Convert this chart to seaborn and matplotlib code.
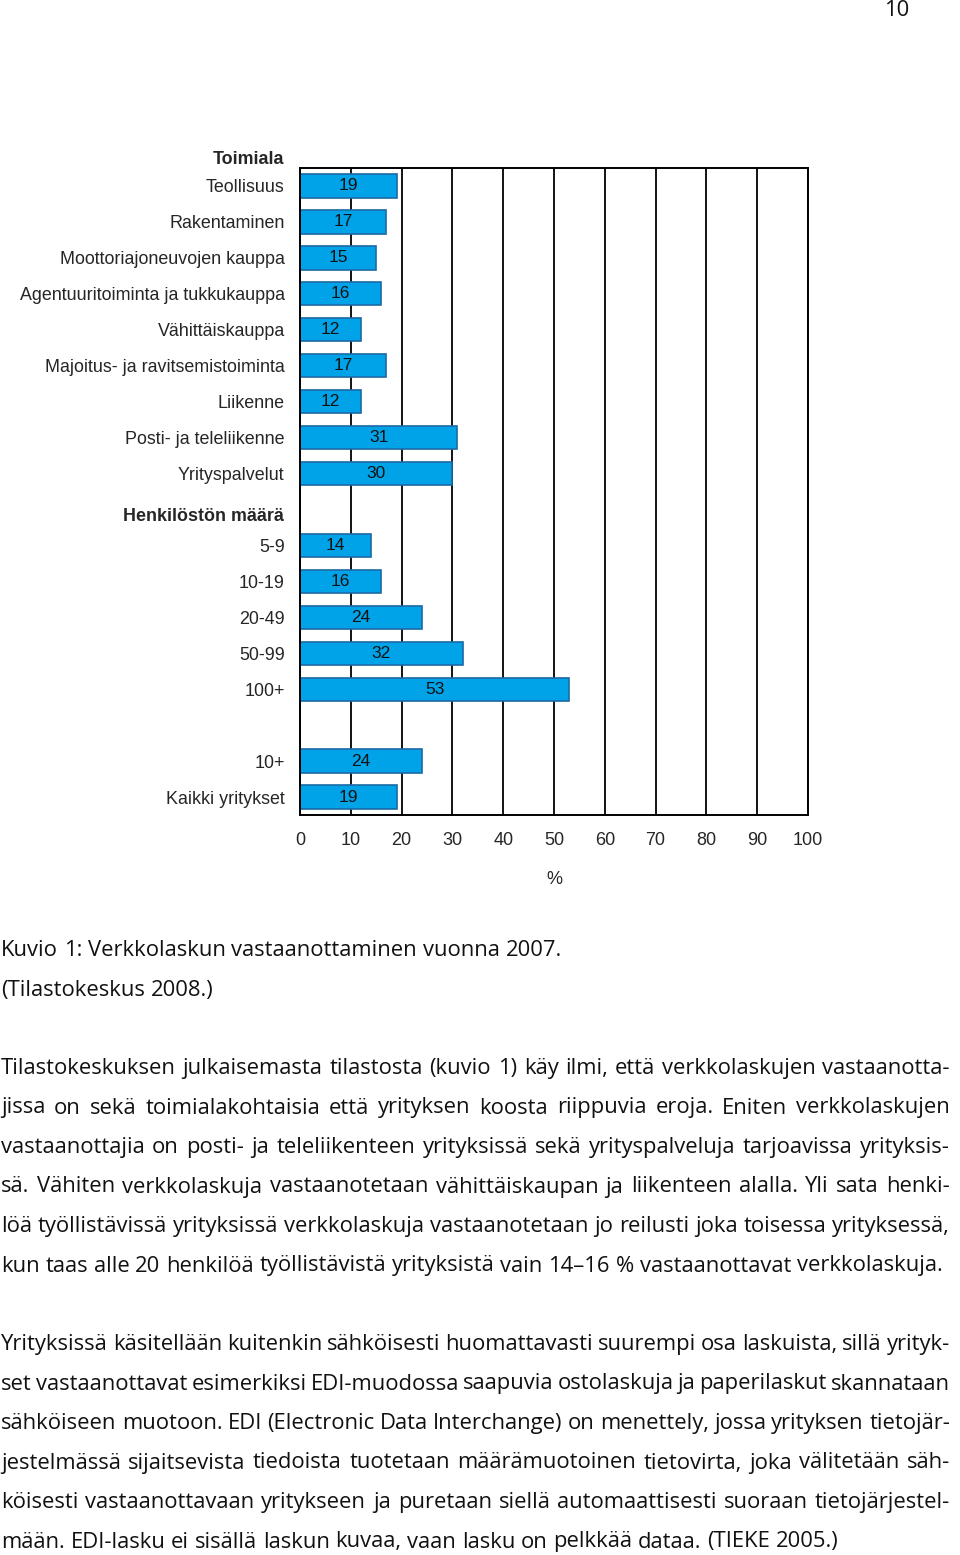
import numpy as np
import pandas as pd
import matplotlib
matplotlib.use("Agg")
import matplotlib.pyplot as plt
import seaborn as sns

# data
toimiala = ["Teollisuus", "Rakentaminen", "Moottoriajoneuvojen kauppa",
            "Agentuuritoiminta ja tukkukauppa", "Vähittäiskauppa",
            "Majoitus- ja ravitsemistoiminta", "Liikenne",
            "Posti- ja teleliikenne", "Yrityspalvelut"]
toimiala_arvot = [19, 17, 15, 16, 12, 17, 12, 31, 30]
koko = ["5-9", "10-19", "20-49", "50-99", "100+"]
koko_arvot = [14, 16, 24, 32, 53]
yhteensa = ["10+", "Kaikki yritykset"]
yhteensa_arvot = [24, 19]
x_ticks = list(range(0, 101, 10))

W, H = 960, 1555
sns.set_style("white")
plt.rcParams["font.family"] = ["Liberation Sans", "DejaVu Sans"]

df = pd.DataFrame({
    "luokka": toimiala + koko + yhteensa,
    "arvo": toimiala_arvot + koko_arvot + yhteensa_arvot,
})
# empty slots for the group gaps
order = toimiala + [" "] + koko + ["  "] + yhteensa

fig = plt.figure(figsize=(W / 100, H / 100), dpi=100)
ax = fig.add_axes([300 / W, 1 - 815 / H, 508 / W, (815 - 168) / H])

sns.barplot(data=df, x="arvo", y="luokka", order=order, orient="h",
            color="#00a2e8", saturation=1, edgecolor="#1b6aa5", linewidth=1.2,
            width=0.65, ax=ax)
ax.bar_label(ax.containers[0], label_type="center", fontsize=12.5, color="#111111")

ax.set_xlim(0, 100)
ax.set_xticks(x_ticks)
ax.set_xticklabels([str(t) for t in x_ticks], fontsize=13)
ax.set_yticks(range(len(order)))
ax.set_yticklabels([c if c.strip() else "" for c in order], fontsize=12.9)
ax.tick_params(axis="y", length=0, pad=11)
ax.tick_params(axis="x", length=6, width=1.3, color="black", direction="out", pad=6)
ax.set_ylabel("")
ax.set_xlabel("%", fontsize=13, labelpad=16)
ax.grid(axis="x", color="black", linewidth=1.3)
ax.set_axisbelow(True)
for s in ax.spines.values():
    s.set_visible(True)
    s.set_color("black")
    s.set_linewidth(1.4)

# group headers
tr = ax.get_yaxis_transform()
hx = -16 / 508
ax.text(hx, -0.75, "Toimiala", transform=tr, ha="right", va="center",
        fontsize=12.9, fontweight="bold")
ax.text(hx, 9.2, "Henkilöstön määrä", transform=tr, ha="right", va="center",
        fontsize=12.9, fontweight="bold")

# page text
body = dict(fontsize=15.8, family=["Open Sans", "DejaVu Sans"], color="#111111")
fig.text(897 / W, 1 - 10 / H, "10", ha="center", va="center", **body)

renderer = fig.canvas.get_renderer()


def put_line(line, ypx, justify, left=1, right=950):
    words = line.split(" ")
    ybase = 1 - (ypx + 7) / H
    texts = [fig.text(0, ybase, w, ha="left", va="baseline", **body) for w in words]
    widths = [t.get_window_extent(renderer).width for t in texts]
    probe_a = fig.text(0, 0, "a a", **body)
    probe_b = fig.text(0, 0, "aa", **body)
    space = probe_a.get_window_extent(renderer).width - probe_b.get_window_extent(renderer).width
    probe_a.remove()
    probe_b.remove()
    if justify and len(words) > 1:
        gap = (right - left - sum(widths)) / (len(words) - 1)
    else:
        gap = space
    x = left
    for t, w in zip(texts, widths):
        t.set_x(x / W)
        x += w + gap


put_line("Kuvio 1: Verkkolaskun vastaanottaminen vuonna 2007.", 949, False)
put_line("(Tilastokeskus 2008.)", 989, False)

para1 = [
    "Tilastokeskuksen julkaisemasta tilastosta (kuvio 1) käy ilmi, että verkkolaskujen vastaanotta-",
    "jissa on sekä toimialakohtaisia että yrityksen koosta riippuvia eroja. Eniten verkkolaskujen",
    "vastaanottajia on posti- ja teleliikenteen yrityksissä sekä yrityspalveluja tarjoavissa yrityksis-",
    "sä. Vähiten verkkolaskuja vastaanotetaan vähittäiskaupan ja liikenteen alalla. Yli sata henki-",
    "löä työllistävissä yrityksissä verkkolaskuja vastaanotetaan jo reilusti joka toisessa yrityksessä,",
    "kun taas alle 20 henkilöä työllistävistä yrityksistä vain 14–16 % vastaanottavat verkkolaskuja.",
]
para2 = [
    "Yrityksissä käsitellään kuitenkin sähköisesti huomattavasti suurempi osa laskuista, sillä yrityk-",
    "set vastaanottavat esimerkiksi EDI-muodossa saapuvia ostolaskuja ja paperilaskut skannataan",
    "sähköiseen muotoon. EDI (Electronic Data Interchange) on menettely, jossa yrityksen tietojär-",
    "jestelmässä sijaitsevista tiedoista tuotetaan määrämuotoinen tietovirta, joka välitetään säh-",
    "köisesti vastaanottavaan yritykseen ja puretaan siellä automaattisesti suoraan tietojärjestel-",
    "mään. EDI-lasku ei sisällä laskun kuvaa, vaan lasku on pelkkää dataa. (TIEKE 2005.)",
]
for i, line in enumerate(para1):
    put_line(line, 1067 + i * 39.5, i < len(para1) - 1)
for i, line in enumerate(para2):
    put_line(line, 1343 + i * 39.5, i < len(para2) - 1)

fig.savefig("out.png", dpi=100, facecolor="white")
